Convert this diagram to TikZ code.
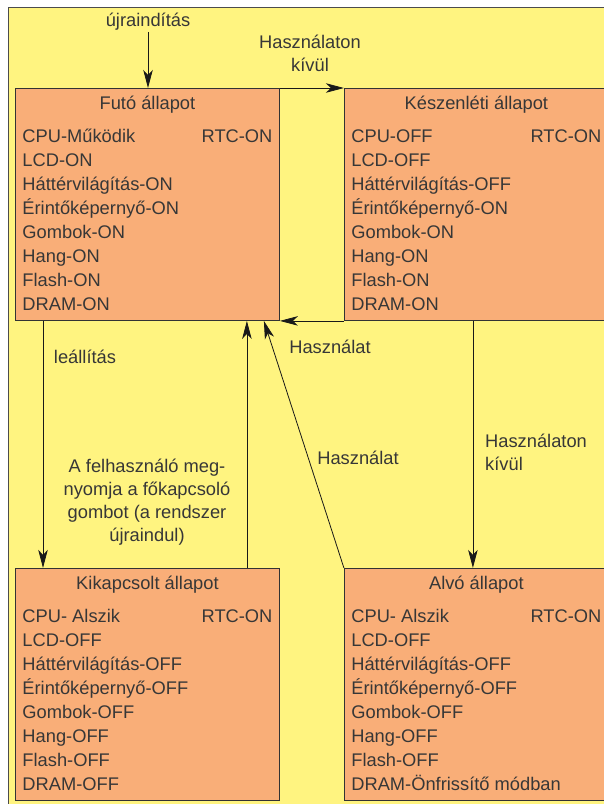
\documentclass[tikz,border=0pt]{standalone}
\usepackage{fontspec}
\setmainfont{Liberation Sans}
\usetikzlibrary{arrows.meta, positioning}

\definecolor{hatter}{RGB}{255,244,128}
\definecolor{allapotszin}{RGB}{249,174,120}
\definecolor{szoveg}{RGB}{55,55,55}

\newcommand{\allapot}[3]{%
  \begin{minipage}[t]{250pt}\fontsize{18.3pt}{24pt}\selectfont
  \centering #1\par\vspace{9pt}
  \raggedright\makebox[250pt]{#2\hfill RTC-ON}\\
  #3
  \end{minipage}}

\begin{document}
\begin{tikzpicture}[x=1pt,y=-1pt,
 allapotdoboz/.style={draw=black!80,line width=0.9pt,fill=allapotszin,text=szoveg,
   inner xsep=7pt,inner ysep=0pt,text height=21pt,text depth=211pt},
 felirat/.style={text=szoveg,inner sep=1pt,font=\fontsize{18.3pt}{23pt}\selectfont},
 nyil/.style={draw=black!90,line width=0.8pt,-{Stealth[length=18pt,width=9.5pt,inset=5pt]}}]

  \useasboundingbox (0,0) rectangle (604,804);
  \draw[fill=hatter,draw=black!70,line width=0.7pt] (8,7) rectangle (640,840);

  \node[allapotdoboz,anchor=north west] (futo) at (15,88)
    {\allapot{Futó állapot}{CPU-Működik}{LCD-ON\\ Háttérvilágítás-ON\\ Érintőképernyő-ON\\ Gombok-ON\\ Hang-ON\\ Flash-ON\\ DRAM-ON}};
  \node[allapotdoboz,right=64pt of futo] (keszen)
    {\allapot{Készenléti állapot}{CPU-OFF}{LCD-OFF\\ Háttérvilágítás-OFF\\ Érintőképernyő-ON\\ Gombok-ON\\ Hang-ON\\ Flash-ON\\ DRAM-ON}};
  \node[allapotdoboz,below=247pt of futo] (kikapcs)
    {\allapot{Kikapcsolt állapot}{CPU- Alszik}{LCD-OFF\\ Háttérvilágítás-OFF\\ Érintőképernyő-OFF\\ Gombok-OFF\\ Hang-OFF\\ Flash-OFF\\ DRAM-OFF}};
  \node[allapotdoboz,below=247pt of keszen] (alvo)
    {\allapot{Alvó állapot}{CPU- Alszik}{LCD-OFF\\ Háttérvilágítás-OFF\\ Érintőképernyő-OFF\\ Gombok-OFF\\ Hang-OFF\\ Flash-OFF\\ DRAM-Önfrissítő módban}};

  \node[felirat] (ujra) at (148,22) {újraindítás};
  \node[felirat,align=center] (kivul1) at (310,53) {Használaton\\kívül};
  \node[felirat] (hasz1) at (330,347) {Használat};
  \node[felirat] (leall) at (85,357) {leállítás};
  \node[felirat,align=center] (gomb) at (147,502)
    {A felhasználó meg-\\nyomja a főkapcsoló\\gombot (a rendszer\\újraindul)};
  \node[felirat] (hasz2) at (358,458) {Használat};
  \node[felirat,align=left,anchor=west] (kivul2) at (484,452) {Használaton\\kívül};

  \draw[nyil] (ujra.south) -- (ujra.south |- futo.north);
  \draw[nyil] (futo.north east) -- (keszen.north west);
  \draw[nyil] (keszen.south west) -- (futo.south east);
  \draw[nyil] ([xshift=28pt]futo.south west) -- ([xshift=28pt]kikapcs.north west);
  \draw[nyil] ([xshift=-33pt]kikapcs.north east) -- ([xshift=-33pt]futo.south east);
  \draw[nyil] (alvo.north west) -- ([xshift=-16pt]futo.south east);
  \draw[nyil] ([xshift=129pt]keszen.south west) -- ([xshift=129pt]alvo.north west);
\end{tikzpicture}
\end{document}
